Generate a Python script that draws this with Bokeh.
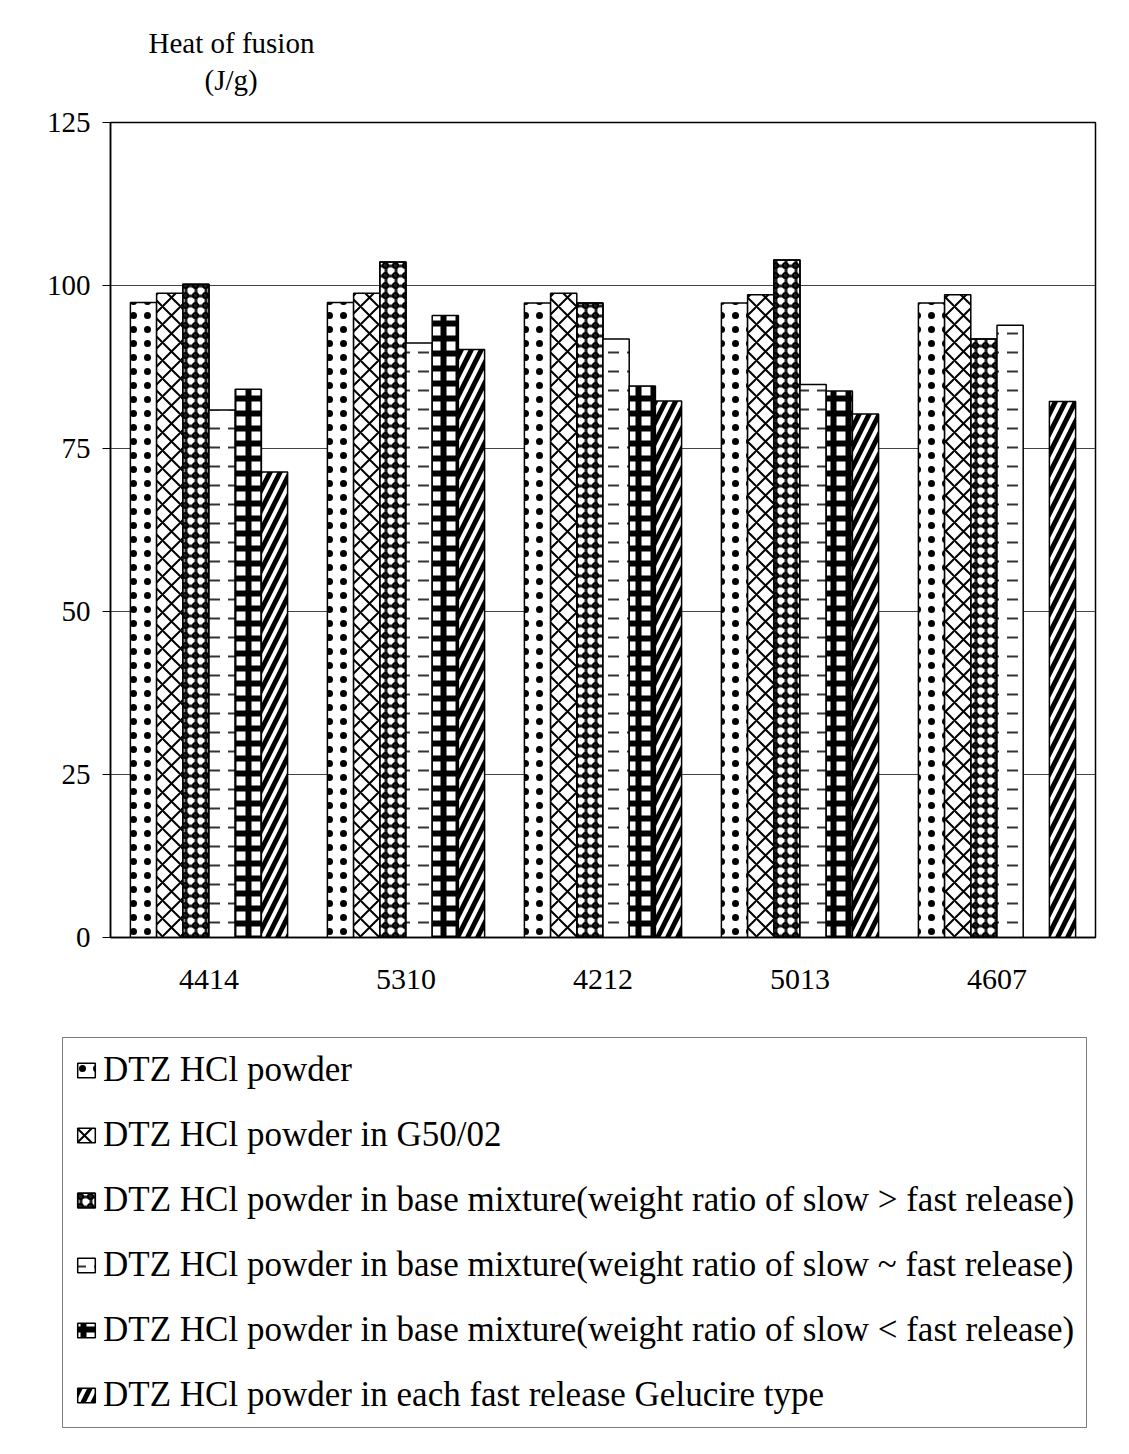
import numpy as np
from bokeh.plotting import figure
from bokeh.models import FactorRange, Range1d, Legend, LegendItem, Title, FixedTicker, ColumnDataSource
from bokeh.transform import dodge
from bokeh.embed import file_html
from bokeh.resources import INLINE

# ---------------- data ----------------
categories = ["4414", "5310", "4212", "5013", "4607"]
series_names = [
    "DTZ HCl powder",
    "DTZ HCl powder in G50/02",
    "DTZ HCl powder in base mixture(weight ratio of slow > fast release)",
    "DTZ HCl powder in base mixture(weight ratio of slow ~ fast release)",
    "DTZ HCl powder in base mixture(weight ratio of slow < fast release)",
    "DTZ HCl powder in each fast release Gelucire type",
]
powder = [97.4, 97.4, 97.3, 97.3, 97.3]
in_g5002 = [98.8, 98.8, 98.8, 98.6, 98.6]
base_slow_gt_fast = [100.2, 103.6, 97.3, 103.9, 91.8]
base_slow_eq_fast = [80.9, 91.2, 91.8, 84.8, 93.9]
base_slow_lt_fast = [84.1, 95.4, 84.6, 83.8, np.nan]
fast_gelucire = [71.4, 90.2, 82.3, 80.3, 82.2]
y_ticks = [0, 25, 50, 75, 100, 125]
y_title = ["Heat of fusion", "(J/g)"]

series_values = [powder, in_g5002, base_slow_gt_fast, base_slow_eq_fast,
                 base_slow_lt_fast, fast_gelucire]

# ---------------- styles (each series may be drawn as stacked hatch layers) ----------------
styles = [
    [dict(fill_color="white", hatch_pattern="dot", hatch_color="black", hatch_scale=14, hatch_weight=2.5)],
    [dict(fill_color="white", hatch_pattern="diagonal_cross", hatch_color="black", hatch_scale=18, hatch_weight=2)],
    [dict(fill_color="white", hatch_pattern="cross", hatch_color="#222222", hatch_scale=10, hatch_weight=3),
     dict(fill_color=None, hatch_pattern="ring", hatch_color="black", hatch_scale=10, hatch_weight=2)],
    [dict(fill_color="white", hatch_pattern="horizontal_dash", hatch_color="#333333", hatch_scale=19, hatch_weight=2)],
    [dict(fill_color="white", hatch_pattern="cross", hatch_color="black", hatch_scale=15, hatch_weight=6)],
    [dict(fill_color="white", hatch_pattern="right_diagonal_line", hatch_color="black", hatch_scale=20, hatch_weight=5)],
]

SERIF = "Liberation Serif"
bar_w = 0.133
offsets = [(k - 2.5) * bar_w for k in range(6)]

source = ColumnDataSource(data=dict(cat=categories, **{f"s{k}": v for k, v in enumerate(series_values)}))


def draw_bars(fig, visible=True):
    out = []
    for k in range(6):
        rs = []
        for st in styles[k]:
            r = fig.vbar(x=dodge("cat", offsets[k], range=fig.x_range), top=f"s{k}", width=bar_w,
                         source=source, line_color="black", line_width=1.5, visible=visible, **st)
            rs.append(r)
        out.append(rs)
    return out


# ---------------- main chart ----------------
p = figure(x_range=FactorRange(*categories, range_padding=0), y_range=Range1d(0, 125),
           width=1121, height=1028, output_backend="svg", toolbar_location=None,
           min_border_left=110, min_border_right=26, min_border_top=122, min_border_bottom=91,
           background_fill_color="white", border_fill_color="white")
draw_bars(p)

p.outline_line_color = "black"
p.outline_line_width = 1.5
p.xgrid.visible = False
p.ygrid.ticker = FixedTicker(ticks=y_ticks)
p.ygrid.grid_line_color = "#444444"
p.ygrid.grid_line_width = 1.2

p.yaxis.ticker = FixedTicker(ticks=y_ticks)
p.yaxis.major_tick_out = 8
p.yaxis.major_tick_in = 0
p.yaxis.minor_tick_line_color = None
p.yaxis.axis_line_color = "black"
p.yaxis.axis_line_width = 1.5
p.yaxis.major_label_standoff = 12
p.yaxis.major_label_text_font = SERIF
p.yaxis.major_label_text_font_size = "29px"
p.yaxis.major_label_text_color = "black"

p.xaxis.major_tick_line_color = None
p.xaxis.axis_line_color = "black"
p.xaxis.axis_line_width = 1.5
p.xaxis.major_label_standoff = 26
p.xaxis.major_label_text_font = SERIF
p.xaxis.major_label_text_font_size = "30px"
p.xaxis.major_label_text_color = "black"

# spacing above the frame, then the two-line axis title
p.add_layout(Title(text=" ", text_font_size="1px", standoff=22), "above")
p.add_layout(Title(text=y_title[1], align="left", offset=94,
                   text_font=SERIF, text_font_size="29px", text_font_style="normal",
                   text_color="black", standoff=4), "above")
p.add_layout(Title(text=y_title[0], align="left", offset=38,
                   text_font=SERIF, text_font_size="29px", text_font_style="normal",
                   text_color="black", standoff=2), "above")

# ---------------- legend panel ----------------
lf = figure(x_range=FactorRange(*categories, range_padding=0), y_range=Range1d(0, 125),
            width=1121, height=418, output_backend="svg", toolbar_location=None,
            x_axis_location=None, y_axis_location=None,
            min_border_left=62, min_border_top=9, min_border_right=0, min_border_bottom=0,
            background_fill_color="white", border_fill_color="white")
lf.grid.visible = False
lf.outline_line_color = None
proxy = draw_bars(lf, visible=False)
items = [LegendItem(label=series_names[k], renderers=proxy[k], index=0) for k in range(6)]
legend = Legend(items=items, location="top_left", margin=0, padding=12,
                label_text_font=SERIF, label_text_font_size="35px", label_text_color="black",
                label_height=36, glyph_height=18, glyph_width=22, spacing=25, label_standoff=6,
                border_line_color="black", border_line_width=1.5, background_fill_color="white",
                background_fill_alpha=1.0, inactive_fill_alpha=0.0, click_policy="none")
lf.add_layout(legend)

open("out.html", "w").write(file_html([p, lf], INLINE))
